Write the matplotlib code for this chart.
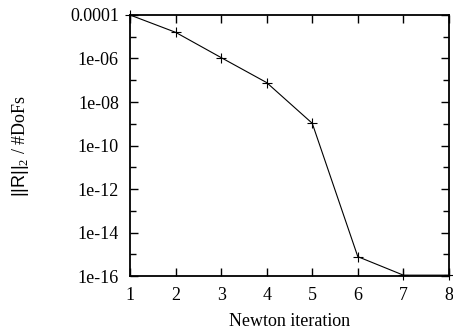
import numpy as np
import matplotlib
matplotlib.use("Agg")
import matplotlib.pyplot as plt

plt.rcParams["font.family"] = "Liberation Serif"
plt.rcParams["mathtext.fontset"] = "custom"
plt.rcParams["mathtext.rm"] = "Liberation Serif"
plt.rcParams["mathtext.sf"] = "Liberation Sans"
plt.rcParams["font.size"] = 13

# Newton residual history
iteration = [1, 2, 3, 4, 5, 6, 7, 8]
residual = [1.0e-4, 1.6e-5, 1.1e-6, 7.8e-8, 1.05e-9, 7.8e-16, 1.1e-16, 1.1e-16]

ytick_vals = [1e-4, 1e-6, 1e-8, 1e-10, 1e-12, 1e-14, 1e-16]
ytick_labels = ["0.0001", "1e-06", "1e-08", "1e-10", "1e-12", "1e-14", "1e-16"]
yminor_vals = [1e-5, 1e-7, 1e-9, 1e-11, 1e-13, 1e-15]

fig = plt.figure(figsize=(4.53, 3.33), dpi=100)
ax = fig.add_axes([0.287, 0.171, 0.704, 0.784])

ax.plot(iteration, residual, color="black", lw=0.8, marker="+", ms=7, mew=0.8,
        clip_on=False)

ax.set_yscale("log")
ax.set_xlim(1, 8)
ax.set_ylim(1e-16, 1e-4)
ax.set_xticks(iteration)
ax.set_yticks(ytick_vals)
ax.set_yticklabels(ytick_labels)
ax.set_yticks(yminor_vals, minor=True)
ax.set_yticklabels([], minor=True)

ax.tick_params(which="both", direction="in", top=True, right=True, width=1.0)
ax.tick_params(which="major", length=6)
ax.tick_params(which="minor", length=4)
ax.tick_params(axis="y", pad=8)
ax.tick_params(axis="x", pad=8)
for s in ax.spines.values():
    s.set_linewidth(1.3)

ax.set_xlabel("Newton iteration", labelpad=6)
ax.set_ylabel(r"$\mathsf{||R||}_{\mathrm{2}}$ / #DoFs", fontsize=13, labelpad=28)

fig.savefig("out.png", dpi=100)
